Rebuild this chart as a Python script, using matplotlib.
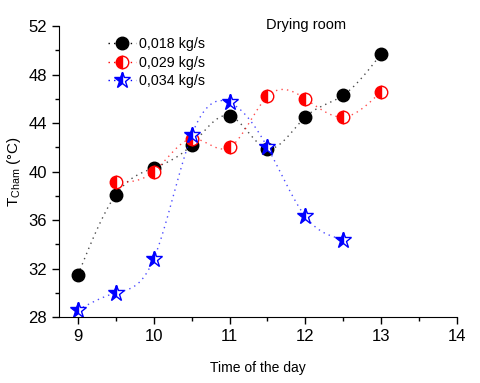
import numpy as np
import matplotlib
matplotlib.use("Agg")
from matplotlib import pyplot as plt
from matplotlib.ticker import MultipleLocator

# values
t_black = [9, 9.5, 10, 10.5, 11, 11.5, 12, 12.5, 13]
T_black = [31.5, 38.1, 40.3, 42.2, 44.6, 41.9, 44.5, 46.3, 49.7]
t_red = [9.5, 10, 10.5, 11, 11.5, 12, 12.5, 13]
T_red = [39.1, 40.0, 42.7, 42.0, 46.2, 46.0, 44.5, 46.6]
t_blue = [9, 9.5, 10, 10.5, 11, 11.5, 12, 12.5]
T_blue = [28.6, 30.0, 32.8, 43.0, 45.7, 42.0, 36.3, 34.4]
labels = ["0,018 kg/s", "0,029 kg/s", "0,034 kg/s"]


def spline(x, y, num=200):
    # natural cubic spline, only used to draw the smooth connecting line
    x = np.asarray(x, float)
    y = np.asarray(y, float)
    n = len(x)
    h = np.diff(x)
    A = np.zeros((n, n))
    r = np.zeros(n)
    A[0, 0] = A[-1, -1] = 1
    for i in range(1, n - 1):
        A[i, i - 1] = h[i - 1]
        A[i, i] = 2 * (h[i - 1] + h[i])
        A[i, i + 1] = h[i]
        r[i] = 3 * ((y[i + 1] - y[i]) / h[i] - (y[i] - y[i - 1]) / h[i - 1])
    c = np.linalg.solve(A, r)
    b = (y[1:] - y[:-1]) / h - h * (2 * c[:-1] + c[1:]) / 3
    d = (c[1:] - c[:-1]) / (3 * h)
    xs = np.linspace(x[0], x[-1], num)
    k = np.clip(np.searchsorted(x, xs) - 1, 0, n - 2)
    dx = xs - x[k]
    ys = y[k] + b[k] * dx + c[k] * dx**2 + d[k] * dx**3
    return xs, ys


plt.rcParams['font.family'] = ['Liberation Sans', 'DejaVu Sans']
fig = plt.figure(figsize=(4.8, 3.83), dpi=100)
ax = fig.add_axes([0.123, 0.172, 0.829, 0.76])

series = [
    (t_black, T_black, 'black', 'o', 'full', 9),
    (t_red, T_red, 'red', 'o', 'left', 9),
    (t_blue, T_blue, 'blue', '*', 'left', 12),
]
for (tx, ty, col, mk, fs, ms), lab in zip(series, labels):
    xs, ys = spline(tx, ty)
    ax.plot(xs, ys, ls=(0, (1, 3)), color=col, lw=1.0, alpha=0.7)
    ax.plot(tx, ty, ls='none', marker=mk, ms=ms, color=col, fillstyle=fs,
            markerfacecoloralt='white', markeredgecolor=col, markeredgewidth=1.0)
    # legend proxy
    ax.plot([], [], ls=(0, (1, 3)), color=col, lw=1.0, marker=mk, ms=ms,
            fillstyle=fs, markerfacecoloralt='white', markeredgecolor=col, label=lab)

ax.set_xlim(8.75, 14)
ax.set_ylim(28, 52)
ax.xaxis.set_major_locator(MultipleLocator(1))
ax.xaxis.set_minor_locator(MultipleLocator(0.5))
ax.yaxis.set_major_locator(MultipleLocator(4))
ax.yaxis.set_minor_locator(MultipleLocator(2))
ax.tick_params(which='major', direction='out', length=5, width=1, labelsize=12)
ax.tick_params(which='minor', direction='out', length=3, width=1)
for s in ['top', 'right']:
    ax.spines[s].set_visible(False)

ax.set_xlabel("Time of the day", fontsize=10, labelpad=12)
ax.set_ylabel(r"T$_{\mathregular{Cham}}$ (°C)", fontsize=11)
ax.text(0.52, 1.005, "Drying room", transform=ax.transAxes, fontsize=10.5,
        ha='left', va='center')

ax.legend(loc='upper left', bbox_to_anchor=(0.09, 1.005), frameon=False,
          fontsize=10.3, handlelength=2.0, handletextpad=0.2, labelspacing=0.3)

fig.savefig("out.png", dpi=100)
